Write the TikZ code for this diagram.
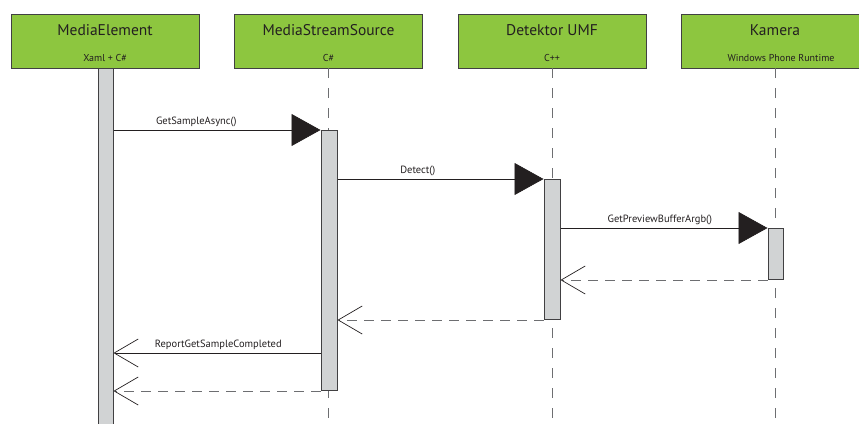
\documentclass[tikz,border=0pt]{standalone}
\usepackage{fontspec}
\setmainfont{PT Sans}
\usetikzlibrary{arrows.meta}
\definecolor{hdrgreen}{HTML}{8DC63F}
\definecolor{bargray}{HTML}{D1D3D4}
\definecolor{edgegray}{HTML}{414042}
\definecolor{dashgray}{HTML}{6D6E71}
\definecolor{inkblack}{HTML}{231F20}
\begin{document}
\begin{tikzpicture}[x=1pt,y=-1pt,
  header/.style={draw=edgegray, fill=hdrgreen, line width=0.9pt, minimum width=188pt, minimum height=54pt, inner sep=0pt},
  titletext/.style={font=\fontsize{15.5}{15.5}\selectfont, text=inkblack, inner sep=0pt},
  subtext/.style={font=\fontsize{10}{10}\selectfont, text=inkblack, inner sep=0pt},
  lifeline/.style={draw=dashgray, line width=1pt, dash pattern=on 10pt off 10pt},
  actbar/.style={draw=edgegray, fill=bargray, line width=1pt, minimum width=15pt, inner sep=0pt, anchor=north},
  call/.style={draw=inkblack, line width=0.7pt, -{Triangle[length=29pt,width=32pt]}},
  reply/.style={draw=inkblack, line width=0.7pt, -{Straight Barb[length=24pt,width=28pt,line width=0.7pt]}},
  dreply/.style={draw=dashgray, line width=1pt, dash pattern=on 10pt off 7pt, -{Straight Barb[length=24pt,width=28pt,line width=0.7pt,color=inkblack]}},
  msg/.style={font=\fontsize{10.5}{10.5}\selectfont, text=inkblack, inner sep=0pt, above=3pt}
]
\useasboundingbox (0,0) rectangle (859,423);
% headers
\node[header] (h1) at (105,41) {};
\node[header] (h2) at (328.5,41) {};
\node[header] (h3) at (552,41) {};
\node[header] (h4) at (775,41) {};
\node[titletext] (t1) at (105,30) {MediaElement};
\node[titletext] (t2) at (328.5,30) {MediaStreamSource};
\node[titletext] (t3) at (552,30) {Detektor UMF};
\node[titletext] (t4) at (775,30) {Kamera};
\node[subtext] (s1) at (105,58) {Xaml + C\#};
\node[subtext] (s2) at (328.5,58) {C\#};
\node[subtext] (s3) at (552,58) {C++};
\node[subtext] (s4) at (781,58) {Windows Phone Runtime};
% lifeline ends
\coordinate (e2) at (328.5,423);
\coordinate (e3) at (552,423);
\coordinate (e4) at (775,423);
\draw[lifeline] (h2.south) -- (e2);
\draw[lifeline] (h3.south) -- (e3);
\draw[lifeline] (h4.south) -- (e4);
% activation bars
\node[actbar, minimum height=362pt] (b1) at (105.5,68) {};
\node[actbar, minimum height=260pt, minimum width=16pt] (b2) at (329,130) {};
\node[actbar, minimum height=140pt, minimum width=16pt] (b3) at (552,179) {};
\node[actbar, minimum height=51pt] (b4) at (775.5,228) {};
\coordinate (m6) at (321,353);
% messages
\draw[call] (b1.east |- b2.north) -- node[msg, pos=0.4] {GetSampleAsync()} (b2.north west);
\draw[call] (b2.east |- b3.north) -- node[msg, pos=0.39] {Detect()} (b3.north west);
\draw[call] (b3.east |- b4.north) -- node[msg, pos=0.48] {GetPreviewBufferArgb()} (b4.north west);
\draw[dreply] (b4.south west) -- (b3.east |- b4.south);
\draw[dreply] (b3.south west) -- (b2.east |- b3.south);
\draw[reply] (m6) -- node[msg, pos=0.495] {ReportGetSampleCompleted} (b1.east |- m6);
\draw[dreply] (b2.south west) -- (b1.east |- b2.south);
\end{tikzpicture}
\end{document}
